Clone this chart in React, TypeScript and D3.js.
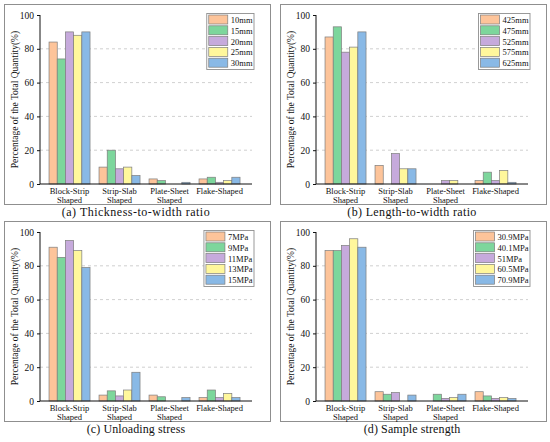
import { useEffect, useRef } from "react";
import * as d3 from "d3";

const categories = ["Block-Strip\nShaped", "Strip-Slab\nShaped", "Plate-Sheet\nShaped", "Flake-Shaped"];
const yTicks = [0, 20, 40, 60, 80, 100];
const gridTicks = [20, 40, 60, 80];

const thicknessSeries = ["10mm", "15mm", "20mm", "25mm", "30mm"];
const thicknessValues = [
  [84, 10, 3, 3],
  [74, 20, 2, 4],
  [90, 9, 0, 1],
  [88, 10, 0, 2],
  [90, 5, 1, 4],
];

const lengthSeries = ["425mm", "475mm", "525mm", "575mm", "625mm"];
const lengthValues = [
  [87, 11, 0, 2],
  [93, 0, 0, 7],
  [78, 18, 2, 2],
  [81, 9, 2, 8],
  [90, 9, 0, 1],
];

const stressSeries = ["7MPa", "9MPa", "11MPa", "13MPa", "15MPa"];
const stressValues = [
  [91, 3.5, 3.5, 2],
  [85, 6, 2.5, 6.5],
  [95, 3, 0, 2],
  [89, 6.5, 0, 4.5],
  [79, 17, 2, 2],
];

const strengthSeries = ["30.9MPa", "40.1MPa", "51MPa", "60.5MPa", "70.9MPa"];
const strengthValues = [
  [89, 5.5, 0, 5.5],
  [89, 4, 4, 3],
  [92, 5, 1.5, 1.5],
  [96, 0, 2, 2],
  [91, 3.5, 4, 1.5],
];

const COLORS = ["#FDC49A", "#7DD69C", "#C6AADC", "#FFF79C", "#89B9E6"];
const FONT = "'Liberation Serif', 'Times New Roman', serif";
const INK = "#111";

interface Panel {
  ox: number;
  oy: number;
  series: string[];
  values: number[][];
  caption: string;
  spacing: number;
}

const panels: Panel[] = [
  { ox: 0, oy: 0, series: thicknessSeries, values: thicknessValues, caption: "(a) Thickness-to-width ratio", spacing: 0.5 },
  { ox: 276, oy: 0, series: lengthSeries, values: lengthValues, caption: "(b) Length-to-width ratio", spacing: 0.35 },
  { ox: 0, oy: 217, series: stressSeries, values: stressValues, caption: "(c) Unloading stress", spacing: 0.1 },
  { ox: 276, oy: 217, series: strengthSeries, values: strengthValues, caption: "(d) Sample strength", spacing: 0.1 },
];

export default function App() {
  const svgRef = useRef<SVGSVGElement>(null);

  useEffect(() => {
    const svgEl = svgRef.current;
    if (!svgEl) return;
    const svg = d3.select(svgEl);
    svg.selectAll("*").remove();

    svg.append("rect").attr("width", 550).attr("height", 442).attr("fill", "#fff");

    const plot = { left: 40, right: 252, top: 15, bottom: 184 };

    panels.forEach((p) => {
      const g = svg.append("g").attr("transform", `translate(${p.ox},${p.oy})`);

      // frame
      g.append("rect")
        .attr("x", 4.5)
        .attr("y", 4.5)
        .attr("width", 266)
        .attr("height", 200)
        .attr("fill", "none")
        .attr("stroke", "#8f8f8f")
        .attr("stroke-width", 1);

      const x = d3
        .scaleBand<string>()
        .domain(categories)
        .range([plot.left, plot.right])
        .paddingInner(0.18)
        .paddingOuter(0.21)
        .align(0.43);

      const xs = d3
        .scaleBand<string>()
        .domain(p.series)
        .range([0, x.bandwidth()]);

      const y = d3.scaleLinear().domain([0, 100]).range([plot.bottom, plot.top]);

      // grid
      g.append("g")
        .selectAll("line")
        .data(gridTicks)
        .enter()
        .append("line")
        .attr("x1", plot.left)
        .attr("x2", plot.right)
        .attr("y1", (d) => y(d))
        .attr("y2", (d) => y(d))
        .attr("stroke", "#c4c4c4")
        .attr("stroke-width", 0.8)
        .attr("stroke-dasharray", "3,3");

      // bars
      p.series.forEach((s, si) => {
        const rows = categories
          .map((c, ci) => ({ c, v: p.values[si][ci] }))
          .filter((d) => d.v > 0);
        g.append("g")
          .selectAll("rect")
          .data(rows)
          .enter()
          .append("rect")
          .attr("x", (d) => x(d.c)! + xs(s)!)
          .attr("y", (d) => y(d.v))
          .attr("width", xs.bandwidth())
          .attr("height", (d) => y(0) - y(d.v))
          .attr("fill", COLORS[si])
          .attr("stroke", "#7d7d7d")
          .attr("stroke-width", 0.7);
      });

      // y axis
      const yAxis = g
        .append("g")
        .attr("transform", `translate(${plot.left},0)`)
        .call(d3.axisLeft(y).tickValues(yTicks).tickSize(3).tickPadding(3));
      yAxis.select(".domain").attr("stroke", INK).attr("d", `M0,${plot.top}V${plot.bottom}`);
      yAxis.selectAll(".tick line").attr("stroke", INK);
      yAxis
        .selectAll("text")
        .attr("fill", INK)
        .attr("font-size", "9.5px")
        .attr("font-family", FONT);

      // x axis
      g.append("line")
        .attr("x1", plot.left)
        .attr("x2", plot.right)
        .attr("y1", plot.bottom)
        .attr("y2", plot.bottom)
        .attr("stroke", INK)
        .attr("stroke-width", 1);

      const catLabels = g
        .append("g")
        .selectAll("text")
        .data(categories)
        .enter()
        .append("text")
        .attr("text-anchor", "middle")
        .attr("font-size", "8.5px")
        .attr("font-family", FONT)
        .attr("fill", INK);
      catLabels.each(function (d) {
        const t = d3.select(this);
        d.split("\n").forEach((line, li) => {
          t.append("tspan")
            .attr("x", x(d)! + x.bandwidth() / 2)
            .attr("y", plot.bottom + 10 + li * 9)
            .text(line);
        });
      });

      // y title
      g.append("text")
        .attr("transform", `translate(18,${(plot.top + plot.bottom) / 2}) rotate(-90)`)
        .attr("text-anchor", "middle")
        .attr("font-size", "9.5px")
        .attr("font-family", FONT)
        .attr("fill", INK)
        .text("Percentage of the Total Quantity(%)");

      // legend
      const lg = g.append("g");
      const legendBox = lg
        .append("rect")
        .attr("fill", "#fff")
        .attr("stroke", "#8f8f8f")
        .attr("stroke-width", 0.9);
      const rowH = 10.8;
      const texts = p.series.map((s, si) => {
        lg.append("rect")
          .attr("x", 2)
          .attr("y", 1.5 + si * rowH)
          .attr("width", 19)
          .attr("height", 9)
          .attr("fill", COLORS[si])
          .attr("stroke", "#7d7d7d")
          .attr("stroke-width", 0.7);
        return lg
          .append("text")
          .attr("x", 24)
          .attr("y", 9.5 + si * rowH)
          .attr("font-size", "8.5px")
          .attr("font-family", FONT)
          .attr("fill", INK)
          .text(s);
      });
      const tw = d3.max(texts, (t) => (t.node() as SVGTextElement).getComputedTextLength()) ?? 20;
      const lw = 24 + tw + 1.5;
      const lh = p.series.length * rowH + 2;
      legendBox.attr("width", lw).attr("height", lh);
      lg.attr("transform", `translate(${254 - lw},${13.5})`);

      // caption
      g.append("text")
        .attr("x", 136)
        .attr("y", 216)
        .attr("text-anchor", "middle")
        .attr("font-size", "12px")
        .attr("letter-spacing", p.spacing)
        .attr("font-family", FONT)
        .attr("fill", INK)
        .text(p.caption);
    });
  }, []);

  return (
    <div style={{ position: "absolute", left: 0, top: 0, width: 550, height: 442 }}>
      <svg ref={svgRef} width={550} height={442} style={{ display: "block" }} />
    </div>
  );
}
